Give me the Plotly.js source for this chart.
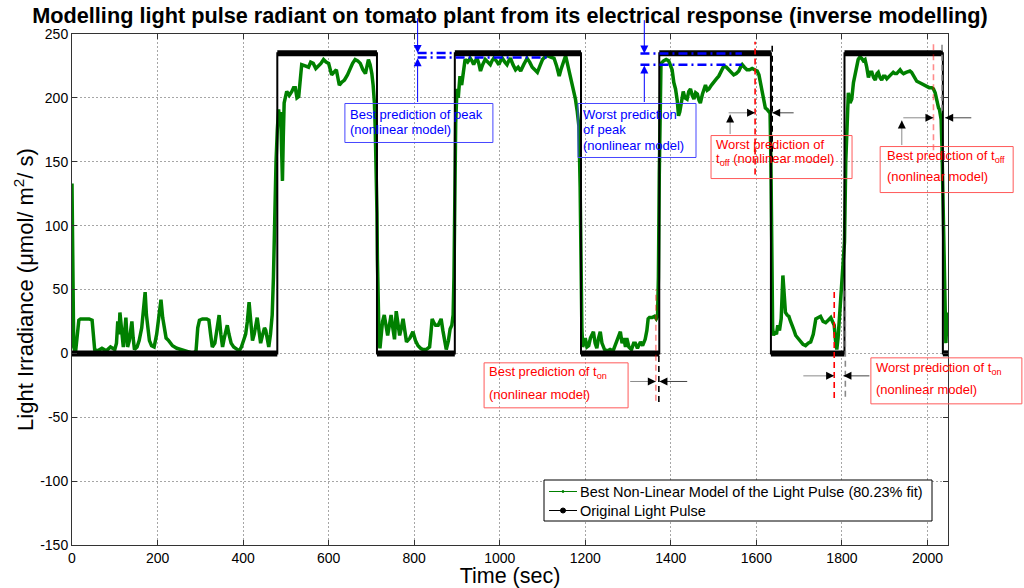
<!DOCTYPE html>
<html><head><meta charset="utf-8">
<script src="https://cdn.plot.ly/plotly-3.0.1.min.js"></script>
<style>html,body{margin:0;padding:0;background:#fff}#chart{width:1024px;height:588px}</style>
</head><body><div id="chart"></div>
<script>
// ---------------- data ----------------
const chartTitle = 'Modelling light pulse radiant on tomato plant from its electrical response (inverse modelling)';
const xTitle = 'Time (sec)';
const yTitle = 'Light Irradiance (\u03bcmol/ m<sup>2</sup>/ s)';
const seriesNames = ['Best Non-Linear Model of the Light Pulse (80.23% fit)', 'Original Light Pulse'];

// best non-linear model output (green)
const modelTime = [0,2,4,8,12,16,20,30,40,47,50,53,60,70,80,90,100,104,107,110,112,116,120,124,126,128,130,134,140,143,146,152,157,163,168,171,174,178,181,186,192,198,203,208,212,216,220,226,235,245,254,264,274,284,290,294,298,305,315,320,324,328,334,340,344,348,352,356,360,363,367,372,378,385,391,396,402,406,410,414,418,422,426,430,433,437,441,446,450,453,457,460,464,468,471,473,475,477,
480,483,486,488,490,492,494,496,502,508,514,518,522,526,530,534,537,545,553,558,564,570,576,582,588,594,600,604,607,612,618,622,625,630,637,644,650,656,662,668,674,680,686,690,693,697,701,704,707,709,711,713,714,716,718,720,
722,726,730,734,738,742,746,750,754,758,762,766,770,774,778,782,790,797,803,809,815,820,828,836,839,842,846,850,856,860,863,867,872,875,880,884,888,891,893,895,897,
900,903,907,911,915,919,925,931,935,939,943,947,951,955,960,966,972,978,982,986,992,998,1002,1006,1012,1017,1021,1025,1031,1037,1043,1049,1056,1064,1070,1076,1082,1088,1094,1100,1106,1111,1119,1127,1133,1139,1143,1147,1151,1154,1160,1166,1172,1177,1181,1185,1188,1190,1192,
1194,1198,1200,1204,1208,1212,1216,1219,1223,1227,1231,1235,1239,1245,1252,1258,1265,1270,1276,1282,1286,1290,1294,1297,1302,1308,1313,1317,1322,1329,1334,1340,1344,1347,1350,1356,1362,1366,1369,1371,1373,1375,
1377,1383,1389,1395,1399,1403,1407,1411,1415,1418,1421,1425,1429,1433,1438,1442,1446,1450,1454,1458,1462,1466,1469,1474,1481,1485,1489,1495,1501,1507,1512,1518,1524,1530,1536,1541,1547,1553,1559,1563,1567,1572,1578,1584,1590,1596,1602,1606,1609,1613,1617,1621,1625,1629,1632,1634,1636,1638,
1640,1643,1647,1650,1654,1658,1662,1665,1668,1672,1676,1680,1684,1688,1692,1697,1703,1709,1715,1721,1727,1733,1739,1745,1750,1756,1762,1768,1774,1778,1782,1785,1788,1791,1793,1797,1800,1803,1806,1809,1812,1815,1819,1823,1827,1831,1835,
1838,1842,1846,1850,1854,1858,1862,1866,1870,1874,1878,1882,1885,1889,1893,1897,1901,1905,1909,1914,1920,1924,1928,1932,1936,1940,1944,1950,1955,1959,1963,1969,1975,1981,1987,1993,1998,2004,2010,2014,2018,2021,2024,2026,2028,2030,2032,2034,2035,2037,2039,2041,2043,2045,2047];
const modelIrradiance = [133,60,5,0,15,26,27,27,27,26,10,3,2,4,2,5,3,8,25,15,32,20,5,20,28,15,5,10,25,12,3,5,10,20,35,48,30,15,10,6,5,15,30,42,28,18,12,10,6,4,3,2,1,0,2,20,26,27,27,26,15,5,8,22,30,15,5,12,18,22,15,8,5,3,2,5,10,15,25,40,25,10,15,22,28,18,8,15,20,18,8,5,15,30,60,100,130,150,
175,191,180,189,160,135,170,196,205,202,205,208,208,200,201,215,226,225,224,228,227,223,225,227,230,228,227,222,218,220,222,215,210,212,214,218,223,227,230,229,227,222,219,225,230,226,219,210,196,175,152,110,74,22,8,4,
14,25,30,20,14,22,30,20,11,33,22,14,20,27,18,9,12,17,10,6,4,3,3,5,15,27,24,22,22,25,27,18,8,3,10,19,22,30,60,120,180,
207,200,217,210,220,230,228,231,229,226,229,231,227,221,226,230,228,226,229,231,229,226,229,231,228,226,229,231,226,222,224,221,226,231,228,224,222,220,225,230,232,233,232,231,225,217,222,227,230,233,224,214,207,199,190,178,130,60,20,
5,10,12,5,6,12,15,17,8,4,12,17,8,3,2,3,2,6,12,17,8,12,5,12,5,3,8,8,4,9,6,11,18,27,28,28,29,27,29,60,140,220,
227,229,230,229,226,222,212,207,198,186,189,198,205,200,199,205,207,202,199,204,203,198,196,203,210,206,207,210,213,215,217,221,225,224,222,220,218,219,221,224,226,224,222,222,223,222,221,218,212,204,196,192,191,189,188,150,60,20,
14,17,15,22,18,27,61,40,32,30,29,25,22,18,14,12,9,7,6,8,9,15,27,28,29,25,24,26,28,25,22,10,3,12,22,35,48,65,87,150,185,204,196,199,212,220,226,
230,232,231,229,230,224,216,220,220,216,214,219,220,216,214,217,217,215,216,218,220,219,219,221,222,220,219,220,221,221,220,216,213,212,211,210,209,208,208,207,204,198,195,192,191,188,183,160,142,100,64,12,8,22,32];

// original light pulse (black): switching times and level held until next switch
const pulseEdges = [0, 480, 713, 895, 1190, 1373, 1634, 1806, 2036, 2048];
const pulseLevels = [0, 235, 0, 235, 0, 235, 0, 235, 0];

const xTickVals = [0, 200, 400, 600, 800, 1000, 1200, 1400, 1600, 1800, 2000];
const yTickVals = [-150, -100, -50, 0, 50, 100, 150, 200, 250];
const yTickText = ['-150', '-100', '-50', '0', '50', '100', '150', '200', '250'];

// ---------------- build traces ----------------
const X_RANGE = [0, 2048], Y_RANGE = [-150, 250];
const PLOT_W = 876, PLOT_H = 511;
const stepX = [], stepY = [], barX = [], barY = [];
for (let i = 0; i < pulseLevels.length; i++) {
  stepX.push(pulseEdges[i], pulseEdges[i + 1]);
  stepY.push(pulseLevels[i], pulseLevels[i]);
  barX.push(pulseEdges[i], pulseEdges[i + 1], null);
  barY.push(pulseLevels[i], pulseLevels[i], null);
}

const FONT = 'Liberation Sans, Arial, Helvetica, sans-serif';
const GREEN = 'rgb(0,128,0)';

const traces = [
  {x: modelTime, y: modelIrradiance, type: 'scatter', mode: 'lines', name: seriesNames[0],
   line: {color: GREEN, width: 3.5}, hoverinfo: 'skip'},
  {x: stepX, y: stepY, type: 'scatter', mode: 'lines', name: seriesNames[1],
   line: {color: '#000', width: 2}, hoverinfo: 'skip'},
  {x: barX, y: barY, type: 'scatter', mode: 'lines', name: seriesNames[1],
   line: {color: '#000', width: 6}, hoverinfo: 'skip'}
];

// ---------------- annotation helpers ----------------
const BLUE = 'rgb(0,0,255)', RED = 'rgb(255,0,0)';
const BLUE_BOX = 'rgb(70,70,255)', RED_BOX = 'rgb(255,90,90)';
const toPX = x => (x - X_RANGE[0]) / (X_RANGE[1] - X_RANGE[0]);
const toPY = y => (y - Y_RANGE[0]) / (Y_RANGE[1] - Y_RANGE[0]);

function boxShape(x, y, wPx, hPx, color, fill) {
  const x0 = toPX(x), y1 = toPY(y);
  return {type: 'rect', xref: 'paper', yref: 'paper', x0: x0, x1: x0 + wPx / PLOT_W,
    y0: y1 - hPx / PLOT_H, y1: y1, line: {color: color, width: 1}, fillcolor: fill || 'rgba(0,0,0,0)'};
}
function label(x, y, text, color) {
  return {xref: 'x', yref: 'y', x: x, y: y, xanchor: 'left', yanchor: 'middle', text: text,
    showarrow: false, borderpad: 0, font: {family: FONT, size: 13, color: color}};
}
function arrow(x, y, ax, ay, color, head) {
  return {xref: 'x', yref: 'y', axref: 'x', ayref: 'y', x: x, y: y, ax: ax, ay: ay, text: '',
    showarrow: true, arrowhead: head, arrowsize: 1.6, arrowwidth: 1, arrowcolor: color, standoff: 0, startstandoff: 0};
}
function pointer(x, y, ax, ay, hx, hy, lineColor) {
  return [arrow(x, y, ax, ay, lineColor, 0), arrow(x, y, hx, hy, '#000', 2)];
}

const annotations = [
  // blue: best prediction of peak
  label(648, 186.9, 'Best prediction of peak', BLUE),
  label(648, 175.2, '(nonlinear model)', BLUE),
  arrow(808, 235.2, 808, 263.6, BLUE, 2),
  arrow(808, 231.0, 808, 195.6, BLUE, 2),
  // blue: worst prediction of peak
  label(1193, 186.9, 'Worst prediction', BLUE),
  label(1193, 175.2, 'of peak', BLUE),
  label(1193, 162.6, '(nonlinear model)', BLUE),
  arrow(1338, 234.8, 1338, 262, BLUE, 2),
  arrow(1338, 225.4, 1338, 195.6, BLUE, 2),
  // red: worst prediction of t_off
  label(1503, 163.6, 'Worst prediction of', RED),
  label(1503, 151.8, 't<sub>off</sub> (nonlinear model)', RED),
  ...pointer(1597, 188.3, 1531.6, 188.3, 1578, 188.3, '#8a8a8a'),
  ...pointer(1637, 188.3, 1690.6, 188.3, 1656, 188.3, '#444'),
  ...pointer(1538.6, 186.9, 1538.6, 170.5, 1538.6, 180.6, '#8a8a8a'),
  // red: best prediction of t_off
  label(1902, 153.8, 'Best prediction of t<sub>off</sub>', RED),
  label(1902, 138.2, '(nonlinear model)', RED),
  ...pointer(2014, 184.4, 1940, 184.4, 1995, 184.4, '#8a8a8a'),
  ...pointer(2041.4, 184.4, 2106, 184.4, 2060, 184.4, '#444'),
  ...pointer(1940, 182.2, 1940, 161.9, 1940, 175.9, '#8a8a8a'),
  // red: best prediction of t_on
  label(973, -15.2, 'Best prediction of t<sub>on</sub>', RED),
  label(973, -31.9, '(nonlinear model)', RED),
  ...pointer(1364.9, -22, 1301.5, -22, 1346, -22, '#8a8a8a'),
  ...pointer(1373.3, -22, 1441.8, -22, 1392, -22, '#444'),
  // red: worst prediction of t_on
  label(1878, -12.2, 'Worst prediction of t<sub>on</sub>', RED),
  label(1878, -28.0, '(nonlinear model)', RED),
  ...pointer(1781.8, -17.6, 1706.3, -17.6, 1763, -17.6, '#8a8a8a'),
  ...pointer(1803.6, -17.6, 1867.7, -17.6, 1822, -17.6, '#444')
];

function vline(x, y0, y1, color, width) {
  return {type: 'line', xref: 'x', yref: 'y', x0: x, x1: x, y0: y0, y1: y1,
    line: {color: color, width: width, dash: '6px,4px'}};
}
function hline(x0, x1, y) {
  return {type: 'line', xref: 'x', yref: 'y', x0: x0, x1: x1, y0: y, y1: y,
    line: {color: 'rgb(0,0,255)', width: 2.5, dash: '9px,4px,2px,4px'}};
}
const shapes = [
  hline(808, 896, 235.2), hline(808, 1118, 231.6),
  hline(1329, 1566, 234.8), hline(1329, 1566, 226),
  vline(1597, 140, 244, 'rgb(255,0,0)', 1.6),
  vline(1637, 150, 244, '#000', 1.6),
  vline(2014, 159, 243, 'rgba(255,0,0,0.45)', 1.6),
  vline(2034, 190, 243, '#8a8a8a', 1.6),
  vline(1365, -37, 50, 'rgba(255,0,0,0.45)', 1.6),
  vline(1372, -38, 0, '#000', 1.6),
  vline(1782, -35, 51, 'rgb(255,0,0)', 1.6),
  vline(1808, -34, 50, '#8a8a8a', 1.6),
  // annotation boxes
  boxShape(638, 195.6, 148, 39, BLUE_BOX),
  boxShape(1183, 195.6, 118, 54, BLUE_BOX),
  boxShape(1494, 170.5, 141, 43, RED_BOX),
  boxShape(1889.4, 161.9, 133, 46, RED_BOX),
  boxShape(963.4, -7.4, 144, 45, RED_BOX),
  boxShape(1867.7, -3.5, 151, 46, RED_BOX)
];

// ---------------- legend (drawn as box + samples + text) ----------------
const legendColors = [GREEN, '#000'];
const legendMarkerSize = [2, 5];
const LEG = {left: 472, top: 65, width: 388, height: 41, rowY: [11.5, 30.5], lineX: [5, 33], textX: 35}; // px within plot
shapes.push({type: 'rect', xref: 'paper', yref: 'paper',
  x0: LEG.left / PLOT_W, x1: (LEG.left + LEG.width) / PLOT_W,
  y0: (LEG.top - LEG.height) / PLOT_H, y1: LEG.top / PLOT_H,
  line: {color: '#000', width: 1}, fillcolor: '#fff'});
seriesNames.forEach((name, i) => {
  const yp = (LEG.top - LEG.rowY[i]) / PLOT_H;
  shapes.push({type: 'line', xref: 'paper', yref: 'paper',
    x0: (LEG.left + LEG.lineX[0]) / PLOT_W, x1: (LEG.left + LEG.lineX[1]) / PLOT_W, y0: yp, y1: yp,
    line: {color: legendColors[i], width: 1}});
  const cx = LEG.left + (LEG.lineX[0] + LEG.lineX[1]) / 2, r = legendMarkerSize[i] / 2;
  shapes.push({type: 'circle', xref: 'paper', yref: 'paper',
    x0: (cx - r) / PLOT_W, x1: (cx + r) / PLOT_W, y0: yp - r / PLOT_H, y1: yp + r / PLOT_H,
    line: {color: legendColors[i], width: 1}, fillcolor: legendColors[i]});
  annotations.push({xref: 'paper', yref: 'paper', x: (LEG.left + LEG.textX) / PLOT_W, y: yp,
    xanchor: 'left', yanchor: 'middle', text: name, showarrow: false, borderpad: 0,
    font: {family: FONT, size: 14.5, color: '#000'}});
});

const axisCommon = {
  showline: true, linecolor: '#333', linewidth: 1, mirror: 'ticks',
  ticks: 'inside', ticklen: 5, tickcolor: '#333', tickwidth: 1,
  showgrid: true, gridcolor: '#a6a6a6', griddash: '2px,2px', gridwidth: 1,
  zeroline: false, tickfont: {family: FONT, size: 14, color: '#000'}
};

const layout = {
  width: 1024, height: 588,
  margin: {l: 72, r: 76, t: 34, b: 43},
  paper_bgcolor: '#fff', plot_bgcolor: '#fff',
  font: {family: FONT, color: '#000'},
  title: {text: chartTitle, font: {family: FONT, size: 21.7, color: '#000', weight: 'bold'},
    x: 0.5, xref: 'paper', xanchor: 'center', y: 1 - 15 / 588, yref: 'container', yanchor: 'middle'},
  xaxis: Object.assign({}, axisCommon, {range: X_RANGE, tickmode: 'array', tickvals: xTickVals,
    title: {text: xTitle, font: {family: FONT, size: 21.5, color: '#000'}, standoff: 9}}),
  yaxis: Object.assign({}, axisCommon, {range: Y_RANGE, tickmode: 'array', tickvals: yTickVals, ticktext: yTickText,
    title: {text: yTitle, font: {family: FONT, size: 22, color: '#000'}, standoff: 0}}),
  showlegend: false,
  annotations: annotations,
  shapes: shapes
};

Plotly.newPlot('chart', traces, layout, {staticPlot: true, displayModeBar: false});
</script></body></html>
